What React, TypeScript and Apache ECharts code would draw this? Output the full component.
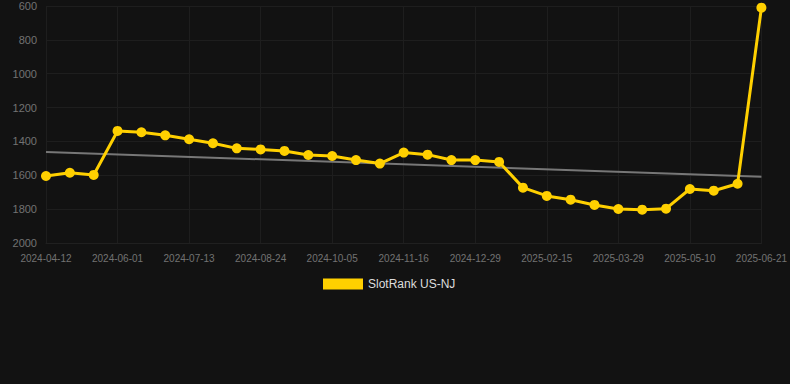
import React, { useEffect, useRef } from "react";
import * as echarts from "echarts";

const dates = [
  "2024-04-12", "2024-04-26", "2024-05-18", "2024-06-01", "2024-06-15", "2024-06-29",
  "2024-07-13", "2024-07-27", "2024-08-10", "2024-08-24", "2024-09-07", "2024-09-21",
  "2024-10-05", "2024-10-19", "2024-11-02", "2024-11-16", "2024-11-30", "2024-12-14",
  "2024-12-29", "2025-01-12", "2025-01-29", "2025-02-15", "2025-03-01", "2025-03-15",
  "2025-03-29", "2025-04-12", "2025-04-26", "2025-05-10", "2025-05-24", "2025-06-07",
  "2025-06-21",
];

const rankValues = [
  1604, 1585, 1598, 1338, 1346, 1364, 1387, 1411, 1441, 1447, 1456, 1480, 1486, 1510,
  1531, 1466, 1478, 1510, 1510, 1521, 1673, 1722, 1744, 1775, 1799, 1803, 1797, 1681,
  1691, 1650, 610,
];

const trendStart = 1462;
const trendEnd = 1608;

const seriesName = "SlotRank US-NJ";

export default function App() {
  const ref = useRef<HTMLDivElement>(null);
  useEffect(() => {
    document.body.style.margin = "0";
    document.body.style.background = "#121212";
    if (!ref.current) return;
    const chart = echarts.init(ref.current, undefined, { renderer: "svg" });
    chart.setOption({
      animation: false,
      backgroundColor: "#121212",
      grid: { left: 46, right: 28, top: 6, bottom: 141, containLabel: false },
      legend: {
        data: [{ name: seriesName, icon: "rect" }],
        top: 273,
        left: 318,
        itemWidth: 40,
        itemHeight: 11,
        itemGap: 10,
        textStyle: { color: "#dddddd", fontSize: 12, fontFamily: "Liberation Sans, Arial, sans-serif" },
      },
      xAxis: {
        type: "category",
        data: dates,
        boundaryGap: false,
        axisLine: { show: true, lineStyle: { color: "#202020" } },
        axisTick: { show: false },
        axisLabel: {
          interval: 2,
          color: "#727272",
          fontSize: 10,
          margin: 10,
          fontFamily: "Liberation Sans, Arial, sans-serif",
        },
        splitLine: { show: true, interval: 2, lineStyle: { color: "#1e1e1e", width: 1 } },
      },
      yAxis: {
        type: "value",
        inverse: true,
        min: 600,
        max: 2000,
        interval: 200,
        axisLine: { show: false },
        axisTick: { show: false },
        axisLabel: {
          color: "#727272",
          fontSize: 11,
          margin: 9,
          fontFamily: "Liberation Sans, Arial, sans-serif",
          formatter: (v: number) => String(v),
        },
        splitLine: { lineStyle: { color: "#1e1e1e", width: 1 } },
      },
      series: [
        {
          name: "trend",
          type: "line",
          data: [
            [dates[0], trendStart],
            [dates[dates.length - 1], trendEnd],
          ],
          symbol: "none",
          lineStyle: { color: "#777777", width: 2 },
          z: 1,
          silent: true,
        },
        {
          name: seriesName,
          type: "line",
          data: rankValues,
          symbol: "circle",
          symbolSize: 10,
          itemStyle: { color: "#ffd000" },
          lineStyle: { color: "#ffd000", width: 3 },
          z: 3,
        },
      ],
    });
    return () => chart.dispose();
  }, []);
  return <div ref={ref} style={{ width: 790, height: 384 }} />;
}
